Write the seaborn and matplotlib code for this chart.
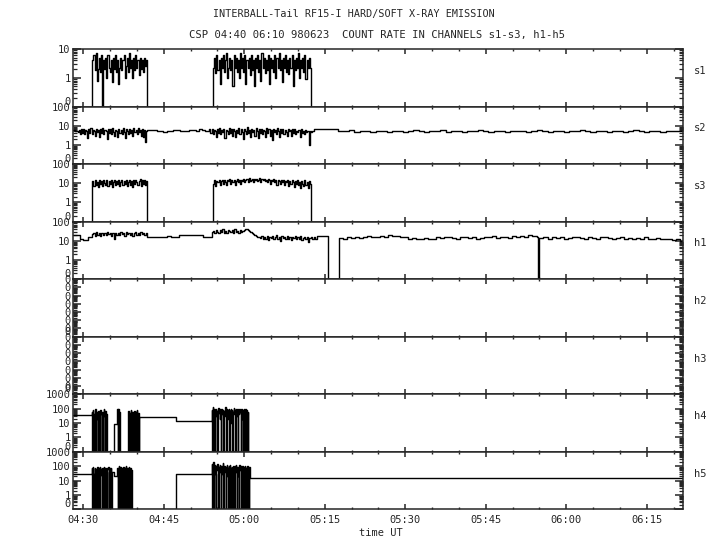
import numpy as np
import matplotlib
matplotlib.use("Agg")
import matplotlib.pyplot as plt
import seaborn as sns
from matplotlib.ticker import FixedLocator, LogLocator, NullFormatter, MultipleLocator

# ---------------- data (time in minutes after 04:00 UT) ----------------
T0, T_END = 28.14, 141.8
CHANNELS = ["s1", "s2", "s3", "h1", "h2", "h3", "h4", "h5"]
YLIMS = {"s1": (0.1, 10), "s2": (0.1, 100), "s3": (0.1, 100), "h1": (0.1, 100),
         "h2": (1e-8, 0.1), "h3": (1e-8, 0.1), "h4": (0.1, 1000), "h5": (0.1, 1000)}
XTICKS = [30, 45, 60, 75, 90, 105, 120, 135]
XTICK_LABELS = ["04:30", "04:45", "05:00", "05:15", "05:30", "05:45", "06:00", "06:15"]

S1_A = [4, 6, 1.8, 7, 0.8, 2, 5, 1.6, 6, 0, 4, 2, 5, 1, 6, 2.2, 1.6, 4, 0.7, 5,
        2, 6, 1.6, 4, 0.6, 2.2, 5, 1.8, 4, 6, 1, 2.5, 5, 1.6, 7, 2.2, 4, 1, 5, 1.8,
        6, 2.2, 4, 1.2, 5, 2, 4, 1.6, 5, 2.5, 4]
S1_B = [2.2, 5, 1.5, 6, 1.8, 4, 0.6, 5, 2.2, 6, 1.6, 4, 7, 1, 2.2, 5, 1.8, 4, 0.5, 6,
        2.2, 5, 1.6, 4, 1, 7, 2.2, 5, 1.6, 6, 0.6, 4, 2.2, 5, 1.2, 6, 1.8, 4, 0.5, 5,
        2.2, 6, 1.6, 4, 0.8, 7, 2.2, 5, 1.5, 4, 1.8, 6, 0.6, 5, 2.2, 4, 1.6, 6, 1, 5,
        2.2, 7, 1.8, 4, 0.7, 5, 2.2, 6, 1.6, 4, 1.3, 5, 2.2, 6, 0.5, 4, 1.8, 5, 2.2, 7,
        1, 4, 2.2, 5, 1.6, 6, 0.9, 4, 2.2, 5, 2.2]

S2_A = [6, 6, 5.5, 5, 4.5, 6, 3.5, 6.5, 4, 7, 3.5, 6, 5, 2.2, 6.5, 4, 7.5, 3.5, 6, 5,
        3, 7, 4.5, 6, 2.5, 6.5, 4, 8, 3.5, 6, 5, 2, 7, 4, 6.5, 3.5, 7.5, 4.5, 3, 6,
        5.5, 2.5, 7, 4, 6, 3.5, 8, 4.5, 2.2, 6.5, 5, 3.5, 7, 4, 6, 2.8, 7.5, 4.5, 6, 3.5,
        8, 4.5, 6, 3, 7, 2.5, 6, 1.5, 5]
S2_B = [6, 6, 6, 5.5, 5.5, 4.8, 5.5, 5.5, 6, 6, 5, 5.5, 5.5, 6, 6, 5.5, 6.5, 6, 5.5]
S2_C = [5, 6.5, 4, 7, 3.5, 6, 5, 2.5, 6.5, 4, 8, 3.5, 6, 4.5, 7, 2.2, 6, 5, 3.5, 7.5,
        4, 6.5, 3, 7, 5, 2.5, 6, 4, 8, 3.5, 6.5, 4.5, 2, 7, 5, 3.5, 9, 4, 6, 2.5,
        7, 4.5, 6, 3, 8, 5, 2.2, 6.5, 4, 7, 3.5, 6, 5, 2.5, 7.5, 4, 6.5, 3, 6, 1.8,
        7, 4.5, 6, 3.5, 8, 5, 2.5, 6.5, 4, 7, 3.5, 6, 4.5, 2.8, 7, 5, 6, 3, 6.5, 4,
        7, 3.5, 5.5, 4.5, 6, 2.5, 6.5, 4, 5.5, 3.5, 6, 4.5, 5.5, 5, 1, 5.5, 4.5, 5.5]
S2_D = [6.5]
S2_E = [5.5, 5, 5.8, 4.8, 5.2, 5.6, 4.6, 5, 5.4, 4.8, 5.6, 5, 4.6, 5.2, 5.8, 5, 4.6, 5.4, 5, 5.8,
        4.8, 5.2, 5.6, 4.6, 5, 5.4, 5.8, 5, 4.6, 5.2, 5.6, 4.8, 5.2, 5, 5.6, 4.6, 5.4, 5.8, 5, 4.8,
        5.2, 5.6, 4.6, 5, 5.4, 5.8, 5, 4.6, 5.2, 5.6, 4.8, 5, 5.4, 4.6, 5.2, 5.8, 5, 4.8, 5.4, 5,
        4.6, 5.2, 5.6, 5, 5.8]

S3_A = [13, 7, 14, 8, 12, 6.5, 15, 9, 13, 7, 14, 10, 8, 15, 7, 13, 9, 14, 6.5, 12,
        15, 8, 13, 9, 14, 7, 12, 15, 8, 13, 9, 14, 7, 12, 15, 8, 13, 6.5, 14, 9,
        15, 12, 8, 13, 16, 7, 14, 9, 15, 8, 13]
S3_B = [9, 14, 7, 13, 12, 15, 8, 13, 14, 9, 15, 12, 8, 14, 13, 16, 9, 14, 12, 15,
        8, 13, 16, 12, 14, 9, 15, 13, 17, 12, 14, 16, 12, 18, 13, 15, 17, 12, 16, 14,
        17, 13, 15, 18, 12, 16, 14, 17, 13, 15, 12, 16, 14, 9, 15, 13, 16, 12, 14, 8,
        15, 13, 9, 14, 12, 15, 8, 13, 12, 14, 7, 13, 9, 14, 12, 6.5, 13, 9, 14, 8,
        12, 5.5, 13, 9, 7, 14, 8, 12, 5.5, 13, 9]

H1_A = [20, 20, 20, 20, 20, 13, 13, 11, 11, 11, 11, 16, 16, 16,
        22, 26, 18, 28, 20, 24, 17, 27, 21, 25, 19, 29, 22, 26, 18, 24, 12, 27, 21, 25,
        19, 28, 23, 26, 17, 30, 22, 25, 20, 27, 18, 24, 29, 21, 26, 19, 28, 23, 25, 20, 24]
H1_B = [16, 16, 15, 16, 16, 17, 16, 16, 20, 19, 20, 21, 20, 19, 16, 16]
H1_C = [28, 34, 24, 38, 30, 26, 36, 29, 40, 27, 33, 25, 37, 31, 28, 35, 26, 39, 30, 33,
        27, 36, 29, 32, 38, 42, 40, 36, 33, 30, 26, 22, 20, 18, 16, 15,
        14, 17, 12, 16, 13, 18, 11, 15, 14, 17, 12, 16, 19, 13, 15, 10, 17, 14, 16, 12,
        18, 13, 15, 11, 16, 14, 17, 12, 15, 13, 18, 11, 14, 16, 12, 15, 9, 14, 16, 13, 15, 12]
H1_D = [18]
H1_E1 = [14, 13, 15, 14, 16, 14, 15, 17, 15, 16, 18, 16, 19, 17, 18, 16, 15, 13, 14, 12,
         13, 14, 12, 13, 15, 14, 16, 15, 14, 13, 15, 16, 14, 15, 13, 14, 16, 15, 17, 14,
         15, 16, 14, 17, 15, 18, 16, 19, 17, 15]
H1_E2 = [14, 15, 13, 16, 14, 15, 13, 14, 16, 15, 14, 13, 15, 14, 13, 15, 16, 14, 13, 14,
         15, 13, 14, 12, 14, 13, 15, 13, 12, 14, 13, 12, 13, 11, 12, 10]

H2 = [0]
H3 = [0]

H4_B1 = [60, 0, 80, 0, 40, 0, 90, 0, 30, 60, 20, 0, 70, 0, 50, 0, 80, 40, 0, 60,
         0, 30, 90, 50, 0, 70, 0, 40]
H4_B2 = [90, 0, 100, 0, 60, 0]
H4_B3 = [70, 0, 50, 0, 80, 0, 30, 60, 0, 40, 0, 70, 20, 0, 60, 0, 80, 0, 50, 0]
H4_B4 = [80, 0, 120, 0, 60, 100, 0, 40, 90, 30, 70, 0, 110, 50, 80, 20, 100, 0, 60, 90,
         40, 80, 0, 70, 30, 120, 60, 0, 90, 40, 80, 20, 100, 0, 70, 50, 90, 10, 80, 0,
         60, 110, 40, 80, 0, 90, 30, 70, 100, 0, 80, 40, 90, 60, 0, 100, 20, 80, 0, 70,
         90, 0, 50, 100, 0, 80, 0, 60, 0]

H5_B1 = [70, 0, 90, 30, 0, 80, 20, 0, 60, 0, 90, 40, 0, 70, 0, 85, 25, 60, 0, 80,
         0, 50, 90, 0, 70, 30, 0, 80, 0, 60, 90, 0, 40, 80, 0, 70, 0]
H5_B2 = [80, 0, 60, 100, 0, 50, 90, 0, 70, 30, 0, 90, 50, 0, 80, 0, 100, 40, 0, 70,
         0, 60, 90, 0, 80, 0, 50]
H5_B3 = [150, 0, 80, 200, 0, 60, 120, 30, 0, 100, 50, 150, 0, 90, 40, 120, 70, 0, 100, 30,
         80, 160, 0, 60, 110, 40, 0, 90, 130, 20, 70, 0, 100, 50, 120, 0, 80, 30, 90, 0,
         110, 60, 0, 100, 40, 130, 70, 0, 90, 20, 80, 0, 120, 50, 100, 0, 70, 110, 0, 60,
         90, 0, 100, 40, 80, 0, 110, 0, 70, 0, 90]

# sections: (start time, sample step, values)
SECTIONS = {
    "s1": [(T0, 0, [0]), (31.7, 0.2, S1_A), (41.9, 0, [0]), (54.2, 0.2, S1_B), (72.5, 0, [0])],
    "s2": [(T0, 0.2, S2_A), (41.94, 0.6, S2_B), (53.3, 0.2, S2_C), (72.9, 0, S2_D), (77.5, 1.0, S2_E)],
    "s3": [(T0, 0, [0]), (31.7, 0.2, S3_A), (41.9, 0, [0]), (54.2, 0.2, S3_B), (72.5, 0, [0])],
    "h1": [(T0, 0.25, H1_A), (41.89, 0.75, H1_B), (53.9, 0.25, H1_C), (73.5, 0, H1_D),
           (75.55, 0, [0]), (77.7, 0.75, H1_E1), (114.7, 0, [0]), (115.0, 0.75, H1_E2)],
    "h2": [(T0, 0, H2)],
    "h3": [(T0, 0, H3)],
    "h4": [(T0, 0, [35]), (31.6, 0.1, H4_B1), (34.4, 0, [0]), (35.7, 0, [9]), (36.3, 0.1, H4_B2),
           (36.9, 0, [0]), (38.4, 0.1, H4_B3), (40.4, 0, [25]), (47.2, 0, [14]),
           (53.9, 0.1, H4_B4), (60.8, 0, [0])],
    "h5": [(T0, 0, [30]), (31.6, 0.1, H5_B1), (35.3, 0, [39]), (35.8, 0, [21]), (36.3, 0.1, H5_B2),
           (39.0, 0, [0]), (47.2, 0, [30]), (53.9, 0.1, H5_B3), (61.0, 0, [16])],
}


def build(sections):
    ts, vs = [], []
    for t0, dt, vals in sections:
        for i, v in enumerate(vals):
            ts.append(t0 + dt * i)
            vs.append(v)
    ts.append(T_END)
    vs.append(vs[-1])
    return np.array(ts, float), np.array(vs, float)


def fmt(v):
    return str(int(round(v))) if v >= 1 else "0"


# ---------------- figure ----------------
sns.set_style("ticks")
plt.rcParams["font.family"] = ["DejaVu Sans Mono"]
plt.rcParams["axes.linewidth"] = 1.1

W, H = 720, 550
fig = plt.figure(figsize=(7.2, 5.5), dpi=100)
left_px, right_px, top_px, bot_px = 73.3, 683.3, 49.0, 509.3
ph = (bot_px - top_px) / len(CHANNELS)

for i, ch in enumerate(CHANNELS):
    y0 = 1 - (top_px + (i + 1) * ph) / H
    ax = fig.add_axes([left_px / W, y0, (right_px - left_px) / W, ph / H])
    lo, hi = YLIMS[ch]
    t, v = build(SECTIONS[ch])
    v = np.clip(v, lo, hi * 10)
    sns.lineplot(x=t, y=v, ax=ax, color="black", linewidth=1.0, drawstyle="steps-post",
                 estimator=None, sort=False, legend=False)
    ax.set_yscale("log")
    ax.set_ylim(lo, hi)
    ax.set_xlim(T0, T_END)
    ax.set_xlabel("")
    ax.set_ylabel("")
    for s in ax.spines.values():
        s.set_visible(True)
        s.set_linewidth(1.1)

    decades = 10.0 ** np.arange(np.log10(lo), np.log10(hi) + 0.01)
    ax.set_yticks(decades)
    ax.set_yticklabels([fmt(d) for d in decades])
    ax.yaxis.set_minor_locator(LogLocator(base=10, subs=np.arange(2, 10), numticks=60))
    ax.yaxis.set_minor_formatter(NullFormatter())
    labels = ax.get_yticklabels()
    labels[0].set_va("bottom")

    ax.xaxis.set_major_locator(FixedLocator(XTICKS))
    ax.xaxis.set_minor_locator(MultipleLocator(5))
    ax.tick_params(axis="y", which="major", direction="in", length=6.0, width=1.1,
                   left=True, right=True, labelsize=7.5, pad=2)
    ax.tick_params(axis="y", which="minor", direction="in", length=3.0, width=0.9,
                   left=True, right=True)
    ax.tick_params(axis="x", which="major", direction="in", length=3.3, width=1.1,
                   top=True, bottom=True, labelsize=7.5, pad=4)
    ax.tick_params(axis="x", which="minor", direction="in", length=1.6, width=1.0,
                   top=True, bottom=True)
    if i == len(CHANNELS) - 1:
        ax.set_xticklabels(XTICK_LABELS)
    else:
        ax.set_xticklabels([])

    ax.text(1.018, 0.62, ch, transform=ax.transAxes, ha="left", va="center", fontsize=7.5)

fig.text(354 / W, 1 - 14 / H, "INTERBALL-Tail RF15-I HARD/SOFT X-RAY EMISSION",
         ha="center", va="center", fontsize=7.3)
fig.text(377 / W, 1 - 35 / H, "CSP 04:40 06:10 980623  COUNT RATE IN CHANNELS s1-s3, h1-h5",
         ha="center", va="center", fontsize=7.6)
fig.text(381 / W, 1 - 533 / H, "time UT", ha="center", va="center", fontsize=7.5)

fig.savefig("out.png", dpi=100)
